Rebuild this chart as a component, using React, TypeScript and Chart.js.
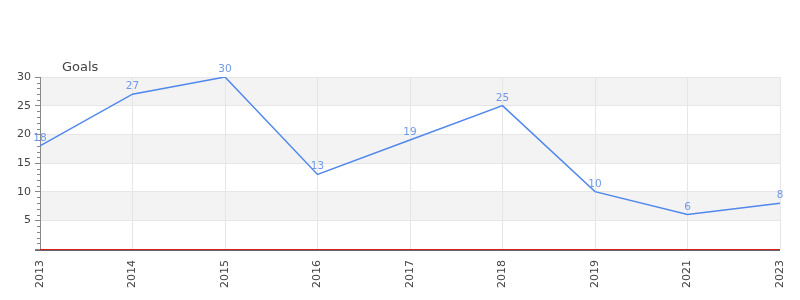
import React, { useEffect, useRef } from "react";
import { Chart, registerables } from "chart.js";

Chart.register(...registerables);

const categories = ["2013", "2014", "2015", "2016", "2017", "2018", "2019", "2021", "2023"];
const goals = [18, 27, 30, 13, 19, 25, 10, 6, 8];
const yMin = 0;
const yMax = 30;
const yStep = 5;
const seriesName = "Goals";

const FONT = "'DejaVu Sans', sans-serif";
const LINE = "#5088ec";
const LABEL = "#6f99e8";

const customPlugin = {
  id: "custom",
  beforeDraw(chart: any) {
    const { ctx, chartArea } = chart;
    const y = chart.scales.y;
    ctx.save();
    ctx.fillStyle = "#f3f3f3";
    for (let v = yMax; v > yMin; v -= 2 * yStep) {
      const top = y.getPixelForValue(v);
      const bot = y.getPixelForValue(v - yStep);
      ctx.fillRect(chartArea.left, top, chartArea.right - chartArea.left, bot - top);
    }
    ctx.restore();
  },
  afterDraw(chart: any) {
    const { ctx, chartArea } = chart;
    const y = chart.scales.y;
    ctx.save();
    // minor ticks
    ctx.strokeStyle = "#888";
    ctx.lineWidth = 1;
    for (let v = yMin + 1; v < yMax; v++) {
      if (v % yStep === 0) continue;
      const py = Math.round(y.getPixelForValue(v)) + 0.5;
      ctx.beginPath();
      ctx.moveTo(chartArea.left - 3, py);
      ctx.lineTo(chartArea.left, py);
      ctx.stroke();
    }
    // x axis line and zero line
    const zy = Math.round(y.getPixelForValue(0));
    ctx.fillStyle = "#666";
    ctx.fillRect(chartArea.left - 5, zy + 1, chartArea.right - chartArea.left + 5, 1);
    ctx.fillStyle = "#d62020";
    ctx.fillRect(chartArea.left, zy, chartArea.right - chartArea.left, 1);
    // data labels
    const meta = chart.getDatasetMeta(0);
    ctx.fillStyle = LABEL;
    ctx.font = `10.5px ${FONT}`;
    ctx.textAlign = "center";
    ctx.textBaseline = "alphabetic";
    meta.data.forEach((pt: any, i: number) => {
      ctx.fillText(String(goals[i]), pt.x, pt.y - 5);
    });
    // title
    ctx.fillStyle = "#444";
    ctx.font = `13px ${FONT}`;
    ctx.textAlign = "left";
    ctx.fillText(seriesName, 62, 71);
    ctx.restore();
  },
};

export default function App() {
  const ref = useRef<HTMLCanvasElement>(null);
  useEffect(() => {
    const chart = new Chart(ref.current!, {
      type: "line",
      data: {
        labels: categories,
        datasets: [
          {
            label: seriesName,
            data: goals,
            borderColor: LINE,
            borderWidth: 1.5,
            pointRadius: 0,
            tension: 0,
            fill: false,
          },
        ],
      },
      options: {
        animation: false,
        responsive: false,
        layout: { padding: { top: 77, right: 20, left: 0, bottom: 0 } },
        plugins: { legend: { display: false }, tooltip: { enabled: false } },
        scales: {
          x: {
            offset: false,
            grid: { color: "#e6e6e6", drawTicks: false },
            border: { display: false },
            ticks: {
              font: { family: FONT, size: 11 },
              color: "#444",
              minRotation: 90,
              maxRotation: 90,
              padding: 11,
              autoSkip: false,
            },
            afterFit(scale: any) {
              scale.height = 51;
              scale.paddingLeft = 0;
              scale.paddingRight = 0;
            },
          },
          y: {
            min: yMin,
            max: yMax,
            grid: { color: "#e6e6e6", tickLength: 5, tickColor: "#888" },
            border: { color: "#888", width: 1 },
            ticks: {
              stepSize: yStep,
              font: { family: FONT, size: 11 },
              color: "#444",
              padding: 4,
              callback: (v: any) => (v === 0 ? "" : String(v)),
            },
            afterFit(scale: any) {
              scale.width = 40;
              scale.paddingTop = 0;
              scale.paddingBottom = 0;
            },
          },
        },
      },
      plugins: [customPlugin],
    });
    return () => chart.destroy();
  }, []);
  return (
    <div style={{ position: "absolute", left: 0, top: 0, width: 800, height: 300 }}>
      <canvas ref={ref} width={800} height={300} />
    </div>
  );
}
